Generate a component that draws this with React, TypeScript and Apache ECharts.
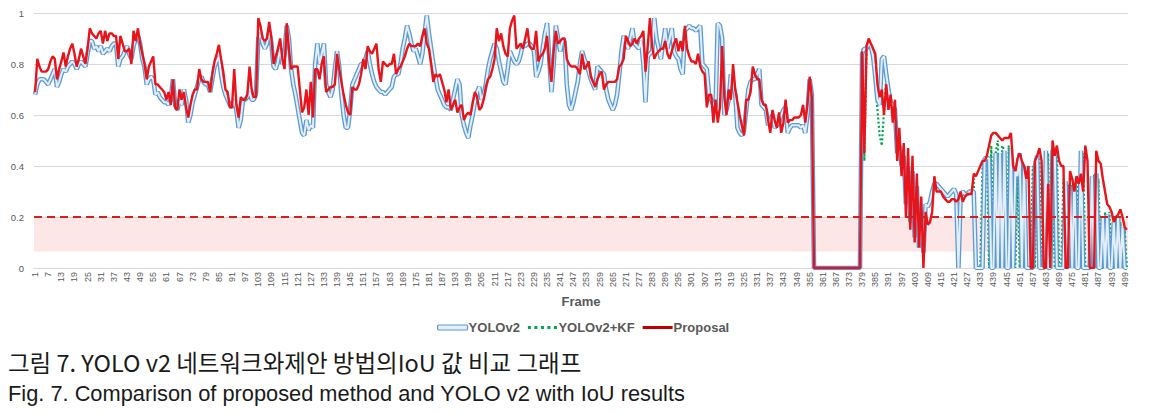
import React, { useEffect, useRef } from 'react';
import * as echarts from 'echarts';

// Frame index categories 1..500
const frames: string[] = Array.from({ length: 500 }, (_, i) => String(i + 1));

// Proposal IoU per frame
const proposal: number[] = [
  0.69, 0.82, 0.79, 0.77, 0.77, 0.77, 0.78, 0.81, 0.83, 0.82,
  0.74, 0.78, 0.81, 0.845, 0.79, 0.83, 0.86, 0.88, 0.84, 0.79,
  0.82, 0.86, 0.83, 0.80, 0.86, 0.94, 0.92, 0.91, 0.90, 0.92,
  0.93, 0.88, 0.93, 0.89, 0.92, 0.92, 0.91, 0.91, 0.82, 0.91,
  0.88, 0.85, 0.85, 0.86, 0.80, 0.93, 0.89, 0.94, 0.88, 0.84,
  0.80, 0.74, 0.79, 0.81, 0.83, 0.72, 0.72, 0.71, 0.70, 0.69,
  0.66, 0.69, 0.64, 0.74, 0.63, 0.62, 0.70, 0.66, 0.69, 0.63,
  0.59, 0.64, 0.68, 0.70, 0.70, 0.78, 0.74, 0.73, 0.73, 0.73,
  0.69, 0.76, 0.81, 0.84, 0.875, 0.82, 0.77, 0.70, 0.69, 0.63,
  0.63, 0.78, 0.64, 0.59, 0.67, 0.66, 0.66, 0.68, 0.79, 0.70,
  0.67, 0.67, 0.98, 0.95, 0.90, 0.89, 0.90, 0.965, 0.90, 0.80,
  0.83, 0.86, 0.90, 0.82, 0.78, 0.96, 0.86, 0.78, 0.79, 0.79,
  0.79, 0.70, 0.61, 0.63, 0.70, 0.60, 0.73, 0.59, 0.78, 0.78,
  0.74, 0.80, 0.83, 0.69, 0.70, 0.71, 0.71, 0.72, 0.84, 0.78,
  0.73, 0.68, 0.64, 0.61, 0.60, 0.71, 0.70, 0.70, 0.72, 0.76,
  0.82, 0.78, 0.87, 0.85, 0.84, 0.86, 0.88, 0.78, 0.73, 0.81,
  0.80, 0.79, 0.80, 0.80, 0.84, 0.76, 0.78, 0.79, 0.81, 0.83,
  0.86, 0.88, 0.87, 0.87, 0.87, 0.88, 0.87, 0.91, 0.94, 0.88,
  0.86, 0.80, 0.73, 0.76, 0.75, 0.76, 0.73, 0.70, 0.65, 0.70,
  0.62, 0.64, 0.66, 0.61, 0.63, 0.64, 0.58, 0.60, 0.61, 0.60,
  0.65, 0.69, 0.67, 0.62, 0.63, 0.66, 0.71, 0.74, 0.75, 0.78,
  0.82, 0.94, 0.89, 0.92, 0.87, 0.84, 0.83, 0.94, 0.97, 0.99,
  0.86, 0.87, 0.88, 0.86, 0.90, 0.94, 0.87, 0.86, 0.86, 0.93,
  0.81, 0.83, 0.84, 0.86, 0.91, 0.80, 0.73, 0.85, 0.93, 0.88,
  0.89, 0.90, 0.90, 0.82, 0.80, 0.79, 0.79, 0.79, 0.78, 0.76,
  0.84, 0.78, 0.79, 0.81, 0.75, 0.73, 0.71, 0.74, 0.76, 0.77,
  0.70, 0.72, 0.73, 0.73, 0.73, 0.73, 0.74, 0.79, 0.80, 0.82,
  0.91, 0.89, 0.87, 0.88, 0.90, 0.88, 0.90, 0.91, 0.93, 0.77,
  0.87, 0.98, 0.87, 0.82, 0.84, 0.85, 0.86, 0.86, 0.89, 0.84,
  0.82, 0.85, 0.88, 0.90, 0.85, 0.89, 0.85, 0.95, 0.86, 0.83,
  0.81, 0.81, 0.80, 0.84, 0.79, 0.77, 0.76, 0.63, 0.68, 0.68,
  0.57, 0.66, 0.57, 0.63, 0.87, 0.67, 0.60, 0.70, 0.66, 0.80,
  0.70, 0.65, 0.60, 0.56, 0.52, 0.66, 0.66, 0.69, 0.79, 0.76,
  0.74, 0.74, 0.66, 0.64, 0.64, 0.58, 0.53, 0.62, 0.58, 0.55,
  0.61, 0.53, 0.57, 0.66, 0.57, 0.58, 0.58, 0.59, 0.59, 0.59,
  0.60, 0.64, 0.57, 0.64, 0.75, 0.67, 0, 0, 0, 0,
  0, 0, 0, 0, 0, 0, 0, 0, 0, 0,
  0, 0, 0, 0, 0, 0, 0, 0, 0.85, 0.45,
  0.87, 0.90, 0.88, 0.86, 0.84, 0.72, 0.67, 0.70, 0.60, 0.72,
  0.62, 0.68, 0.57, 0.66, 0.42, 0.55, 0.36, 0.49, 0.20, 0.47,
  0.15, 0.44, 0.10, 0.37, 0.08, 0.28, 0, 0.22, 0.17, 0.18,
  0.22, 0.36, 0.30, 0.30, 0.30, 0.28, 0.27, 0.26, 0.26, 0.27,
  0.27, 0.26, 0.27, 0.30, 0.26, 0.28, 0.29, 0.29, 0.29, 0.37,
  0.36, 0.38, 0.40, 0.42, 0.42, 0.44, 0.48, 0.52, 0.53, 0.53,
  0.52, 0.51, 0.50, 0.51, 0.51, 0.51, 0.53, 0.40, 0.38, 0.43,
  0.45, 0.42, 0.40, 0.35, 0.40, 0, 0, 0.42, 0.44, 0.47,
  0.42, 0, 0, 0.33, 0, 0.50, 0.44, 0.48, 0.42, 0.40,
  0.40, 0, 0, 0.38, 0.35, 0.30, 0.36, 0.33, 0.37, 0.30,
  0.48, 0.42, 0, 0, 0, 0.46, 0.42, 0.41, 0.35, 0.30,
  0.25, 0.24, 0.22, 0.18, 0.20, 0.21, 0.23, 0.20, 0.16, 0.15,
];

// YOLOv2 IoU per frame
const yolo: number[] = [
  0.68, 0.72, 0.74, 0.74, 0.74, 0.73, 0.72, 0.74, 0.76, 0.78,
  0.71, 0.73, 0.76, 0.78, 0.77, 0.79, 0.80, 0.81, 0.80, 0.78,
  0.80, 0.81, 0.80, 0.79, 0.84, 0.89, 0.89, 0.86, 0.87, 0.85,
  0.87, 0.84, 0.85, 0.86, 0.85, 0.87, 0.88, 0.88, 0.79, 0.82,
  0.83, 0.85, 0.87, 0.84, 0.82, 0.87, 0.90, 0.91, 0.88, 0.82,
  0.79, 0.72, 0.74, 0.75, 0.74, 0.68, 0.69, 0.67, 0.66, 0.65,
  0.65, 0.64, 0.66, 0.74, 0.64, 0.62, 0.66, 0.64, 0.70, 0.66,
  0.57, 0.60, 0.65, 0.68, 0.71, 0.74, 0.75, 0.73, 0.72, 0.72,
  0.69, 0.74, 0.79, 0.81, 0.83, 0.76, 0.71, 0.68, 0.66, 0.64,
  0.63, 0.66, 0.62, 0.55, 0.58, 0.66, 0.66, 0.67, 0.69, 0.66,
  0.66, 0.69, 0.90, 0.92, 0.88, 0.86, 0.88, 0.93, 0.88, 0.79,
  0.78, 0.81, 0.86, 0.80, 0.84, 0.95, 0.90, 0.78, 0.72, 0.68,
  0.63, 0.58, 0.53, 0.52, 0.58, 0.54, 0.56, 0.55, 0.80, 0.88,
  0.80, 0.84, 0.88, 0.72, 0.69, 0.67, 0.70, 0.78, 0.85, 0.79,
  0.68, 0.60, 0.55, 0.55, 0.62, 0.72, 0.74, 0.76, 0.78, 0.80,
  0.80, 0.82, 0.85, 0.80, 0.76, 0.73, 0.71, 0.70, 0.69, 0.69,
  0.68, 0.69, 0.70, 0.71, 0.75, 0.76, 0.76, 0.80, 0.86, 0.90,
  0.95, 0.92, 0.88, 0.85, 0.86, 0.83, 0.80, 0.84, 0.92, 0.99,
  0.92, 0.86, 0.80, 0.75, 0.70, 0.68, 0.66, 0.64, 0.63, 0.63,
  0.62, 0.66, 0.70, 0.74, 0.72, 0.60, 0.56, 0.53, 0.51, 0.56,
  0.60, 0.65, 0.69, 0.71, 0.66, 0.68, 0.72, 0.78, 0.82, 0.85,
  0.88, 0.86, 0.81, 0.77, 0.73, 0.72, 0.78, 0.85, 0.83, 0.81,
  0.80, 0.81, 0.84, 0.88, 0.87, 0.88, 0.88, 0.87, 0.85, 0.75,
  0.77, 0.80, 0.86, 0.92, 0.96, 0.82, 0.69, 0.80, 0.95, 0.90,
  0.85, 0.89, 0.89, 0.72, 0.64, 0.62, 0.65, 0.69, 0.73, 0.80,
  0.85, 0.82, 0.80, 0.77, 0.74, 0.72, 0.70, 0.79, 0.78, 0.77,
  0.76, 0.70, 0.66, 0.64, 0.62, 0.64, 0.68, 0.76, 0.85, 0.91,
  0.88, 0.86, 0.90, 0.94, 0.88, 0.87, 0.86, 0.89, 0.80, 0.65,
  0.83, 0.84, 0.85, 0.98, 0.90, 0.86, 0.82, 0.88, 0.94, 0.86,
  0.90, 0.94, 0.85, 0.83, 0.82, 0.78, 0.76, 0.93, 0.94, 0.95,
  0.94, 0.94, 0.93, 0.94, 0.95, 0.80, 0.79, 0.78, 0.68, 0.66,
  0.64, 0.63, 0.96, 0.95, 0.90, 0.60, 0.62, 0.66, 0.76, 0.72,
  0.68, 0.55, 0.53, 0.52, 0.54, 0.62, 0.70, 0.73, 0.74, 0.74,
  0.76, 0.78, 0.64, 0.63, 0.62, 0.56, 0.58, 0.60, 0.55, 0.56,
  0.57, 0.60, 0.62, 0.63, 0.53, 0.55, 0.56, 0.56, 0.56, 0.56,
  0.55, 0.56, 0.53, 0.60, 0.74, 0.68, 0, 0, 0, 0,
  0, 0, 0, 0, 0, 0, 0, 0, 0, 0,
  0, 0, 0, 0, 0, 0, 0, 0, 0.84, 0.86,
  0.86, 0.88, 0.87, 0.83, 0.75, 0.66, 0.64, 0.82, 0.83, 0.76,
  0.70, 0.65, 0.64, 0.62, 0.45, 0.48, 0.40, 0.44, 0.25, 0.40,
  0.18, 0.38, 0.12, 0.32, 0.08, 0.22, 0.06, 0.25, 0.24, 0.26,
  0.30, 0.33, 0.33, 0.32, 0.31, 0.30, 0.29, 0.28, 0.29, 0.30,
  0.31, 0.29, 0, 0.28, 0.30, 0.29, 0.29, 0.30, 0.30, 0.30,
  0, 0, 0, 0, 0.43, 0.43, 0.43, 0, 0, 0.45,
  0, 0.45, 0, 0.46, 0, 0, 0.47, 0, 0.38, 0.36,
  0.45, 0, 0.40, 0, 0, 0, 0, 0.40, 0.44, 0,
  0, 0, 0.46, 0, 0, 0.46, 0.47, 0, 0, 0,
  0, 0.34, 0, 0.32, 0, 0.35, 0, 0, 0.46, 0,
  0, 0, 0, 0.36, 0, 0.37, 0, 0, 0.20, 0,
  0.21, 0, 0, 0.18, 0, 0.20, 0, 0.16, 0, 0,
];

// YOLOv2+KF: identical to YOLOv2 (hidden under it) until frame 378, then these values for frames 379..500
const kfTail: number[] = [
  0.86, 0.42,
  0.86, 0.89, 0.87, 0.83, 0.72, 0.62, 0.52, 0.48, 0.62, 0.74,
  0.70, 0.65, 0.64, 0.62, 0.45, 0.48, 0.40, 0.44, 0.25, 0.40,
  0.18, 0.38, 0.12, 0.32, 0.08, 0.22, 0.06, 0.25, 0.24, 0.26,
  0.30, 0.33, 0.33, 0.32, 0.31, 0.30, 0.29, 0.28, 0.29, 0.30,
  0.31, 0.29, 0.27, 0.28, 0.30, 0.29, 0.29, 0.30, 0.30, 0.35,
  0, 0, 0, 0.40, 0.43, 0.43, 0, 0.48, 0, 0.45,
  0.50, 0, 0.48, 0.46, 0, 0.48, 0, 0.42, 0, 0.36,
  0, 0.40, 0.40, 0, 0, 0, 0.40, 0, 0.44, 0.42,
  0, 0, 0, 0.45, 0, 0.46, 0, 0.46, 0, 0,
  0.35, 0, 0.33, 0, 0.33, 0, 0.36, 0, 0, 0.45,
  0, 0, 0, 0, 0.37, 0, 0.35, 0, 0, 0.22,
  0, 0.22, 0, 0, 0.20, 0, 0.18, 0, 0.15, 0,
];
const yoloKf: number[] = [...yolo.slice(0, 378), ...kfTail];

const thresholdLine = 0.2;
const bandBottom = 0.065;

const captionKo = '그림 7. YOLO v2 네트워크와제안 방법의IoU 값 비교 그래프';
const captionEn = 'Fig. 7. Comparison of proposed method and YOLO v2 with IoU results';

export default function App() {
  const ref = useRef<HTMLDivElement>(null);
  useEffect(() => {
    if (!ref.current) return;
    const chart = echarts.init(ref.current, null, { renderer: 'svg' });
    const font = '"Liberation Sans", Arial, sans-serif';
    chart.setOption({
      animation: false,
      backgroundColor: '#ffffff',
      textStyle: { fontFamily: font },
      grid: { left: 34, top: 13, width: 1094, height: 255, containLabel: false },
      xAxis: {
        type: 'category',
        data: frames,
        boundaryGap: true,
        name: 'Frame',
        nameLocation: 'middle',
        nameGap: 27,
        nameTextStyle: { fontSize: 13, fontWeight: 'bold', color: '#595959', fontFamily: font },
        axisLine: { lineStyle: { color: '#d9d9d9', width: 1 } },
        axisTick: { show: false },
        axisLabel: { interval: 5, rotate: 90, fontSize: 9, color: '#595959', margin: 4, fontFamily: font },
        splitLine: { show: false },
      },
      yAxis: {
        type: 'value',
        min: 0,
        max: 1,
        interval: 0.2,
        axisLine: { show: false },
        axisTick: { show: false },
        axisLabel: { fontSize: 9.5, color: '#595959', margin: 10, fontFamily: font },
        splitLine: { lineStyle: { color: '#d9d9d9', width: 1 } },
      },
      legend: {
        top: 316,
        left: 432,
        itemWidth: 30,
        itemHeight: 5,
        itemGap: 8,
        textStyle: { fontSize: 13, fontWeight: 'bold', color: '#595959', fontFamily: font, padding: [0, 0, 0, -4] },
        data: [
          { name: 'YOLOv2', icon: 'roundRect', itemStyle: { color: '#e6f0fa', borderColor: '#5b9bd5', borderWidth: 1.2 } },
          {
            name: 'YOLOv2+KF',
            icon: 'path://M0,0M0,1h3v3h-3zM6.5,1h3v3h-3zM13,1h3v3h-3zM19.5,1h3v3h-3zM26,1h3v3h-3zM29,5',
            itemStyle: { color: '#00a550', borderWidth: 0 },
          },
          { name: 'Proposal', icon: 'path://M0,0M0,1h30v3h-30zM30,5', itemStyle: { color: '#c00000', borderWidth: 0 } },
        ],
      },
      series: [
        {
          name: 'YOLOv2+KF',
          type: 'line',
          data: yoloKf,
          symbol: 'none',
          lineStyle: { color: '#00a550', width: 2.2, type: [2, 2.2] },
          itemStyle: { color: '#00a550' },
          markArea: {
            silent: true,
            itemStyle: { color: 'rgba(250, 190, 190, 0.38)' },
            data: [[{ yAxis: bandBottom }, { yAxis: thresholdLine }]],
          },
          markLine: {
            silent: true,
            symbol: 'none',
            label: { show: false },
            lineStyle: { color: '#d02020', width: 2, type: [8, 5] },
            data: [{ yAxis: thresholdLine }],
          },
        },
        {
          name: 'YOLOv2',
          type: 'line',
          data: yolo,
          symbol: 'none',
          lineStyle: { color: '#5b9bd5', width: 4.6 },
          itemStyle: { color: '#5b9bd5' },
        },
        {
          name: 'YOLOv2 core',
          type: 'line',
          data: yolo,
          symbol: 'none',
          silent: true,
          lineStyle: { color: '#e4eef9', width: 2 },
          itemStyle: { color: '#e4eef9' },
        },
        {
          name: 'Proposal',
          type: 'line',
          data: proposal,
          symbol: 'none',
          lineStyle: { color: '#e8141b', width: 2.4 },
          itemStyle: { color: '#c00000' },
        },
      ],
      graphic: [
        {
          type: 'text',
          left: 8,
          top: 350,
          style: { text: captionKo, fill: '#1a1a1a', font: '23.5px "Noto Sans CJK KR", sans-serif' },
        },
        {
          type: 'text',
          left: 8,
          top: 382,
          style: { text: captionEn, fill: '#1a1a1a', font: '21.8px "Liberation Sans", Arial, sans-serif' },
        },
      ],
    });
    return () => chart.dispose();
  }, []);
  return (
    <div
      ref={ref}
      style={{ position: 'fixed', left: 0, top: 0, width: 1150, height: 413, background: '#fff' }}
    />
  );
}
